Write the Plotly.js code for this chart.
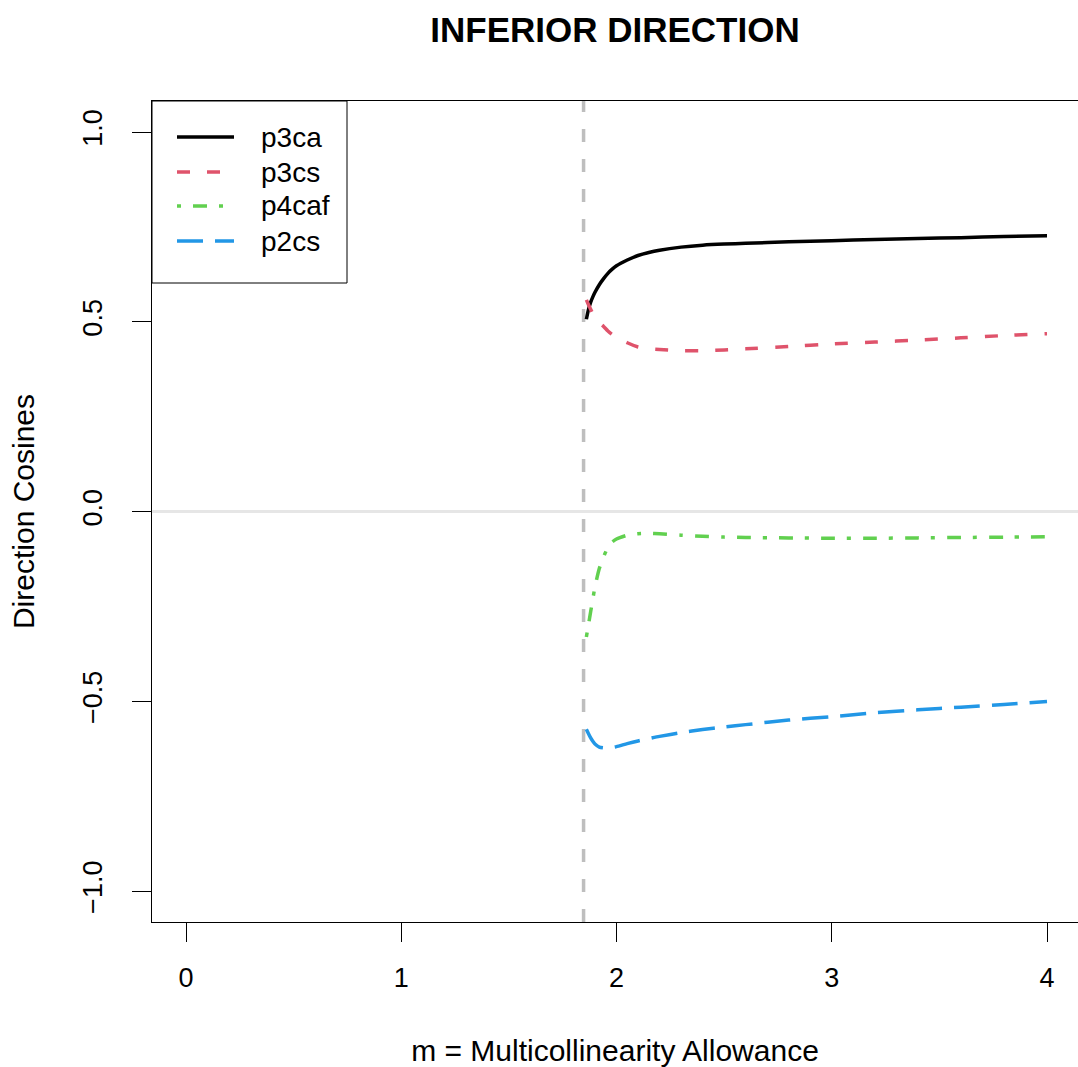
<!DOCTYPE html>
<html>
<head>
<meta charset="utf-8">
<script src="https://cdn.plot.ly/plotly-3.0.1.min.js"></script>
<style>html,body{margin:0;padding:0;background:#fff;}#chart{width:1078px;height:1067px;}</style>
</head>
<body>
<div id="chart"></div>
<script>
// Multicollinearity allowance grid
const m = [1.86, 1.87, 1.88, 1.89, 1.90, 1.92, 1.94, 1.96, 1.98, 2.00, 2.05, 2.10, 2.15, 2.20, 2.30, 2.40, 2.50, 2.60, 2.80, 3.00, 3.20, 3.40, 3.60, 3.80, 4.00];
const p3ca  = [0.507, 0.533, 0.552, 0.566, 0.578, 0.598, 0.614, 0.628, 0.639, 0.648, 0.663, 0.675, 0.683, 0.689, 0.697, 0.702, 0.705, 0.707, 0.711, 0.714, 0.717, 0.720, 0.722, 0.725, 0.727];
const p3cs  = [0.558, 0.545, 0.533, 0.522, 0.512, 0.498, 0.488, 0.476, 0.467, 0.460, 0.445, 0.434, 0.429, 0.427, 0.424, 0.424, 0.426, 0.429, 0.435, 0.442, 0.447, 0.452, 0.458, 0.464, 0.469];
const p4caf = [-0.330, -0.297, -0.263, -0.230, -0.198, -0.150, -0.119, -0.094, -0.080, -0.072, -0.062, -0.058, -0.057, -0.058, -0.062, -0.065, -0.067, -0.068, -0.069, -0.070, -0.070, -0.069, -0.068, -0.067, -0.066];
const p2cs  = [-0.573, -0.585, -0.596, -0.605, -0.612, -0.620, -0.622, -0.622, -0.621, -0.619, -0.611, -0.604, -0.598, -0.592, -0.582, -0.574, -0.567, -0.561, -0.549, -0.540, -0.530, -0.522, -0.515, -0.508, -0.500];
const seriesNames = ["p3ca", "p3cs", "p4caf", "p2cs"];
const cutoff = 1.847; // vertical reference line (minimum m)
const xTicks = [0, 1, 2, 3, 4];
const yTicks = [-1.0, -0.5, 0.0, 0.5, 1.0];
const yTickText = ["\u22121.0", "\u22120.5", "0.0", "0.5", "1.0"];

const FONT = "Liberation Sans, Arial, Helvetica, sans-serif";
const seriesVals = [p3ca, p3cs, p4caf, p2cs];
const colors = ["#000000", "#DF536B", "#61D04F", "#2297E6"];
const dashes = ["solid", "13px,17px", "4px,12px,14px,12px", "26px,12px"];
const LW = 3.5;

// figure geometry (px) used to place the hand-built legend box in paper units
const W = 1078, H = 1067, ML = 152, MR = 0, MT = 101, MB = 145;
const pw = W - ML - MR, ph = H - MT - MB;
const px2x = px => (px - ML) / pw;
const py2y = py => (H - MB - py) / ph;

const traces = seriesVals.map((v, i) => ({
  x: m, y: v, type: "scatter", mode: "lines", name: seriesNames[i], showlegend: false,
  line: {color: colors[i], width: LW, dash: dashes[i], shape: "spline", smoothing: 0.6}
}));

// legend (box, line samples, labels)
const legRowY = [137, 172, 206, 241];
const shapes = [
  {type: "line", xref: "x", yref: "paper", x0: cutoff, x1: cutoff, y0: 0, y1: 1,
   line: {color: "#BEBEBE", width: LW, dash: "13px,17px"}, layer: "below"},
  {type: "rect", xref: "paper", yref: "paper", x0: px2x(152), x1: px2x(347), y0: py2y(283), y1: py2y(101),
   line: {color: "#000", width: 1}, fillcolor: "rgba(255,255,255,0)"}
];
const annotations = [];
seriesNames.forEach((name, i) => {
  shapes.push({type: "line", xref: "paper", yref: "paper", x0: px2x(177), x1: px2x(234),
               y0: py2y(legRowY[i]), y1: py2y(legRowY[i]),
               line: {color: colors[i], width: LW, dash: dashes[i]}});
  annotations.push({xref: "paper", yref: "paper", x: px2x(259), y: py2y(legRowY[i]),
                    xanchor: "left", yanchor: "middle", showarrow: false, text: name,
                    font: {family: FONT, size: 28, color: "#000"}});
});

const layout = {
  width: W, height: H,
  margin: {l: ML, r: MR, t: MT, b: MB, pad: 0},
  paper_bgcolor: "#fff", plot_bgcolor: "#fff",
  font: {family: FONT, size: 27, color: "#000"},
  title: {text: "<b>INFERIOR DIRECTION</b>", font: {family: FONT, size: 35, color: "#000"},
          x: 0.5, xref: "paper", y: 1 - 30/H, yref: "container", yanchor: "middle"},
  showlegend: false,
  xaxis: {range: [-0.158, 4.144], tickvals: xTicks, ticktext: xTicks.map(String),
          ticks: "outside", ticklen: 19, tickwidth: 1, tickcolor: "#000",
          showline: true, linecolor: "#000", linewidth: 1, mirror: true,
          showgrid: false, zeroline: false, ticklabelstandoff: 13,
          tickfont: {family: FONT, size: 27, color: "#000"},
          title: {text: "m = Multicollinearity Allowance", font: {family: FONT, size: 30, color: "#000"}, standoff: 49}},
  yaxis: {range: [-1.081, 1.082], tickvals: yTicks, ticktext: yTickText, tickangle: -90,
          ticks: "outside", ticklen: 19, tickwidth: 1, tickcolor: "#000",
          showline: true, linecolor: "#000", linewidth: 1, mirror: false,
          showgrid: false, zeroline: true, zerolinecolor: "#E6E6E6", zerolinewidth: 3,
          ticklabelstandoff: 19,
          tickfont: {family: FONT, size: 27, color: "#000"},
          title: {text: "Direction Cosines", font: {family: FONT, size: 30, color: "#000"}, standoff: 34}},
  shapes: shapes,
  annotations: annotations
};

Plotly.newPlot("chart", traces, layout, {displayModeBar: false, staticPlot: true});
</script>
</body>
</html>
